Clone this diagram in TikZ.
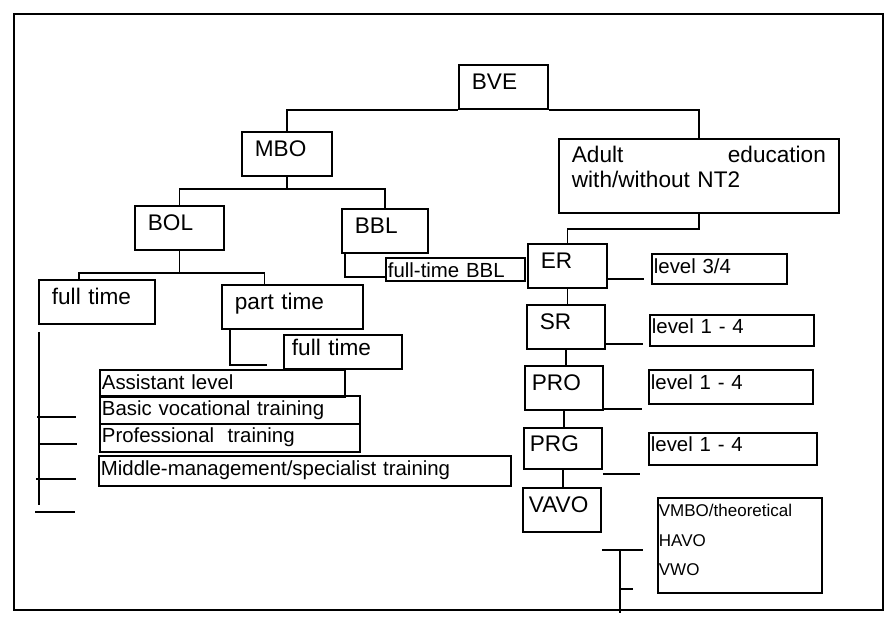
\documentclass[tikz,border=0pt]{standalone}
\usepackage{fontspec}
\setmainfont{Liberation Sans}
\usepackage{tikz}
\usetikzlibrary{calc}

\begin{document}
\begin{tikzpicture}[
  x=0.5pt, y=-0.5pt,
  box/.style={draw, line width=0.9pt, anchor=north west, inner xsep=6.5pt,
    inner ysep=0pt, align=left, font=\fontsize{11.3}{12.5}\selectfont},
  lvl/.style={box, inner xsep=1pt, font=\fontsize{10.2}{12}\selectfont},
  tall/.style={text height=12.5pt, text depth=9.5pt},
  con/.style={line width=0.9pt}
]
  \useasboundingbox (0,0) rectangle (885,618);
  \draw[con] (14,14) rectangle (883,610);

  % Top level
  \node[box, tall, text width=31.5pt] (bve) at (458,64) {BVE};
  \node[box, tall, text width=32pt] (mbo) at (241,131) {MBO};
  \node[box, text width=127pt, text height=12pt, text depth=25pt] (adult) at (558,138)
    {Adult\hfill education\\with/without NT2};
  \draw[con] (mbo.north) |- (bve.south west);
  \draw[con] (bve.south east) -| (adult.north);

  % MBO branch
  \node[box, tall, text width=31.5pt] (bol) at (134,205) {BOL};
  \node[box, tall, text width=30pt] (bbl) at (341,208) {BBL};
  \draw[con] (mbo.south) -- ++(0,12) coordinate (mbobus);
  \draw[con] (bol.north) |- (mbobus) -| (bbl.north);
  \node[lvl, text width=67.5pt, text height=10pt, text depth=1.5pt] (ftbbl) at (385,257) {full-time BBL};
  \draw[con] ([xshift=2pt]bbl.south west) |- ([yshift=2.5pt]ftbbl.south west);

  % BOL branch
  \node[box, tall, text width=45pt] (ft1) at (38,279) {full time};
  \node[box, tall, text width=57.5pt] (pt1) at (221,284) {part time};
  \draw[con] (bol.south) -- ++(0,22) coordinate (bolbus);
  \draw[con] ([xshift=-9pt]ft1.north) |- (bolbus) -| ([xshift=-14pt]pt1.north);
  \node[box, inner xsep=4pt, text width=51pt, text height=10.5pt, text depth=6.5pt] (ft2) at (283,334) {full time};
  \draw[con] ([xshift=4.5pt]pt1.south west) -- ++(0,35) -- ++(37,0) coordinate (ptend);

  % Training levels
  \node[lvl, text width=120.5pt, text height=10pt, text depth=3.5pt] (asl) at (99,369) {Assistant level};
  \node[lvl, text width=128pt, text height=10pt, text depth=4pt] (bvt) at (99,395) {Basic vocational training};
  \node[lvl, text width=128pt, text height=9.5pt, text depth=4.5pt] (prt) at (99,423) {Professional~ training};
  \node[lvl, text width=204pt, text height=10pt, text depth=5pt] (mmt) at (98,455) {Middle-management/specialist training};

  % full time bus
  \draw[con] ([xshift=0.5pt, yshift=-3.5pt]ft1.south west) -- ++(0,173) coordinate (ftend);
  \draw[con] (37,417) -- ++(39,0);
  \draw[con] (39,444) -- ++(38,0);
  \draw[con] (36,479) -- ++(40,0);
  \draw[con] (35,512) -- ++(40,0);

  % Adult education branch
  \node[box, tall, text width=26.5pt] (er) at (527,243) {ER};
  \node[box, tall, text width=26pt] (sr) at (526,304) {SR};
  \node[box, tall, inner xsep=3.5pt, text width=32pt] (pro) at (524,365) {PRO};
  \node[box, inner xsep=3pt, text width=33pt, text height=12pt, text depth=8.5pt] (prg) at (523,427) {PRG};
  \node[box, tall, inner xsep=3pt, text width=33pt] (vavo) at (522,487) {VAVO};
  \draw[con] (adult.south) -- ++(0,15) -| (er.north);
  \draw[con] (er.south) -- (er.south |- sr.north);
  \draw[con] (sr.south) -- (sr.south |- pro.north);
  \draw[con] (pro.south) -- (pro.south |- prg.north);
  \draw[con] (prg.south) -- (prg.south |- vavo.north);

  % Levels
  \node[lvl, text width=65.5pt, text height=10pt, text depth=5pt] (lv1) at (651,253) {level 3/4};
  \node[lvl, text width=80pt, text height=9.5pt, text depth=6pt] (lv2) at (649,314) {level 1 - 4};
  \node[lvl, text width=80pt, text height=10pt, text depth=7pt] (lv3) at (648,369) {level 1 - 4};
  \node[lvl, text width=82pt, text height=9.5pt, text depth=6.5pt] (lv4) at (648,432) {level 1 - 4};
  \node[lvl, inner xsep=0.5pt, text width=81pt, text height=9.5pt, text depth=38pt,
    font=\fontsize{8.5}{14.75}\selectfont] (sec) at (657,497) {VMBO/theoretical\\HAVO\\VWO};
  \draw[con] ([yshift=5pt]er.south east) -- ++(36,0);
  \draw[con] ([yshift=3pt]sr.south east) -- ++(37,0);
  \draw[con] ([yshift=1pt]pro.south east) -- ++(38,0);
  \draw[con] ([yshift=-2pt]prg.south east) -- ++(37,0);
  \draw[con] ([yshift=-8.5pt]vavo.south east) -- ++(41,0);
  \draw[con] ([xshift=9pt, yshift=-8.5pt]vavo.south east) coordinate (vb) -- ++(0,63);
  \draw[con] ([yshift=-19.5pt]vb) -- ++(13,0);
\end{tikzpicture}
\end{document}
